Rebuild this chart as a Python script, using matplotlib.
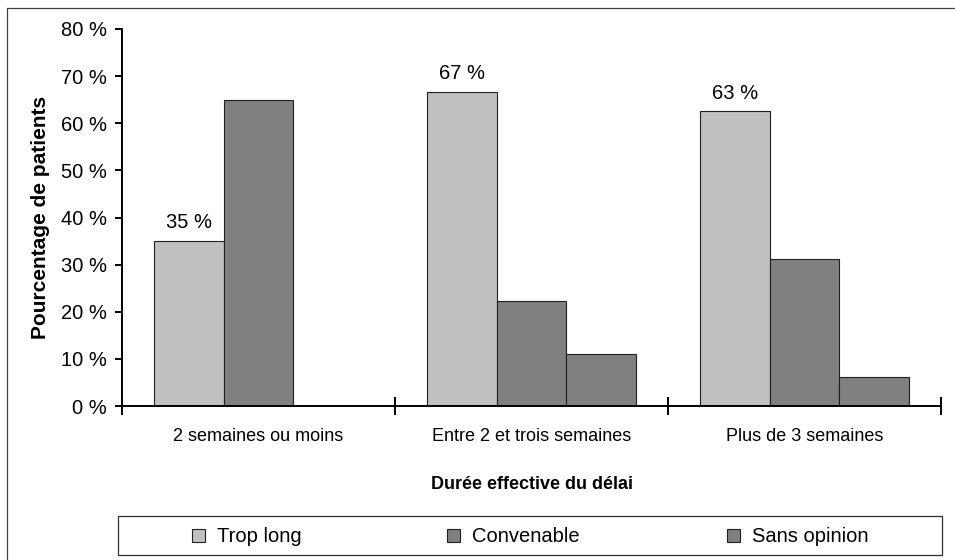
import numpy as np
import matplotlib
matplotlib.use("Agg")
import matplotlib.pyplot as plt
from matplotlib.patches import Rectangle, Patch

plt.rcParams['font.family'] = ['Liberation Sans', 'DejaVu Sans']

categories = ["2 semaines ou moins", "Entre 2 et trois semaines", "Plus de 3 semaines"]
trop_long = [35.0, 66.7, 62.5]
convenable = [65.0, 22.2, 31.25]
sans_opinion = [0.0, 11.1, 6.25]
series_names = ["Trop long", "Convenable", "Sans opinion"]
series_colors = ["#c0c0c0", "#808080", "#808080"]
labels_trop_long = ["35 %", "67 %", "63 %"]

fig = plt.figure(figsize=(9.55, 5.6), dpi=100)
W, H = 955, 560
ax = fig.add_axes([122 / W, 1 - 406 / H, (941 - 122) / W, (406 - 29) / H])

# cadre extérieur du graphique
fig.patches.append(Rectangle((7 / W, -0.1), 1.2, 1.1 - 8 / H, transform=fig.transFigure,
                             fill=False, edgecolor="#404040", linewidth=0.9))

centres = np.arange(len(categories)) + 0.5
largeur = 0.256
series = [trop_long, convenable, sans_opinion]
for k, (vals, couleur) in enumerate(zip(series, series_colors)):
    ax.bar(centres + (k - 1) * largeur, vals, width=largeur, color=couleur,
           edgecolor="#202020", linewidth=0.8, zorder=2)

for x, v, txt in zip(centres - largeur, trop_long, labels_trop_long):
    ax.text(x, v + 1.9, txt, ha="center", va="bottom", fontsize=14.5)

ax.set_xlim(0, 3)
ax.set_ylim(0, 80)
ax.set_yticks(np.arange(0, 81, 10))
ax.set_yticklabels([f"{v} %" for v in range(0, 81, 10)], fontsize=14.5)
ax.tick_params(axis="y", direction="out", length=5, width=1.4, pad=6)

ax.set_xticks([0, 1, 2, 3])
ax.set_xticklabels([])
ax.tick_params(axis="x", which="major", direction="inout", length=13, width=1.4)
ax.set_xticks(centres, minor=True)
ax.set_xticklabels(categories, minor=True, fontsize=13,
                   family=['Liberation Sans Narrow', 'Liberation Sans', 'DejaVu Sans'])
ax.tick_params(axis="x", which="minor", length=0, pad=16)

for s in ["top", "right"]:
    ax.spines[s].set_visible(False)
for s in ["left", "bottom"]:
    ax.spines[s].set_linewidth(1.4)

ax.set_ylabel("Pourcentage de patients", fontsize=15, fontweight="bold", labelpad=8)
ax.set_xlabel("Durée effective du délai", fontsize=13, fontweight="bold", labelpad=22)

# légende dans un cadre sous le graphique
fig.patches.append(Rectangle((118 / W, 1 - 555 / H), (942 - 118) / W, 39 / H,
                             transform=fig.transFigure, fill=False,
                             edgecolor="#303030", linewidth=0.9))
pos_legende = [192, 447, 727]
for nom, couleur, px in zip(series_names, series_colors, pos_legende):
    fig.legend(handles=[Patch(facecolor=couleur, edgecolor="#202020", linewidth=0.8, label=nom)],
               loc="center left", bbox_to_anchor=(px / W, 1 - 537 / H), frameon=False,
               fontsize=14.5, handlelength=0.65, handleheight=0.65, handletextpad=0.6,
               borderpad=0, borderaxespad=0)

fig.savefig("out.png", dpi=100)
